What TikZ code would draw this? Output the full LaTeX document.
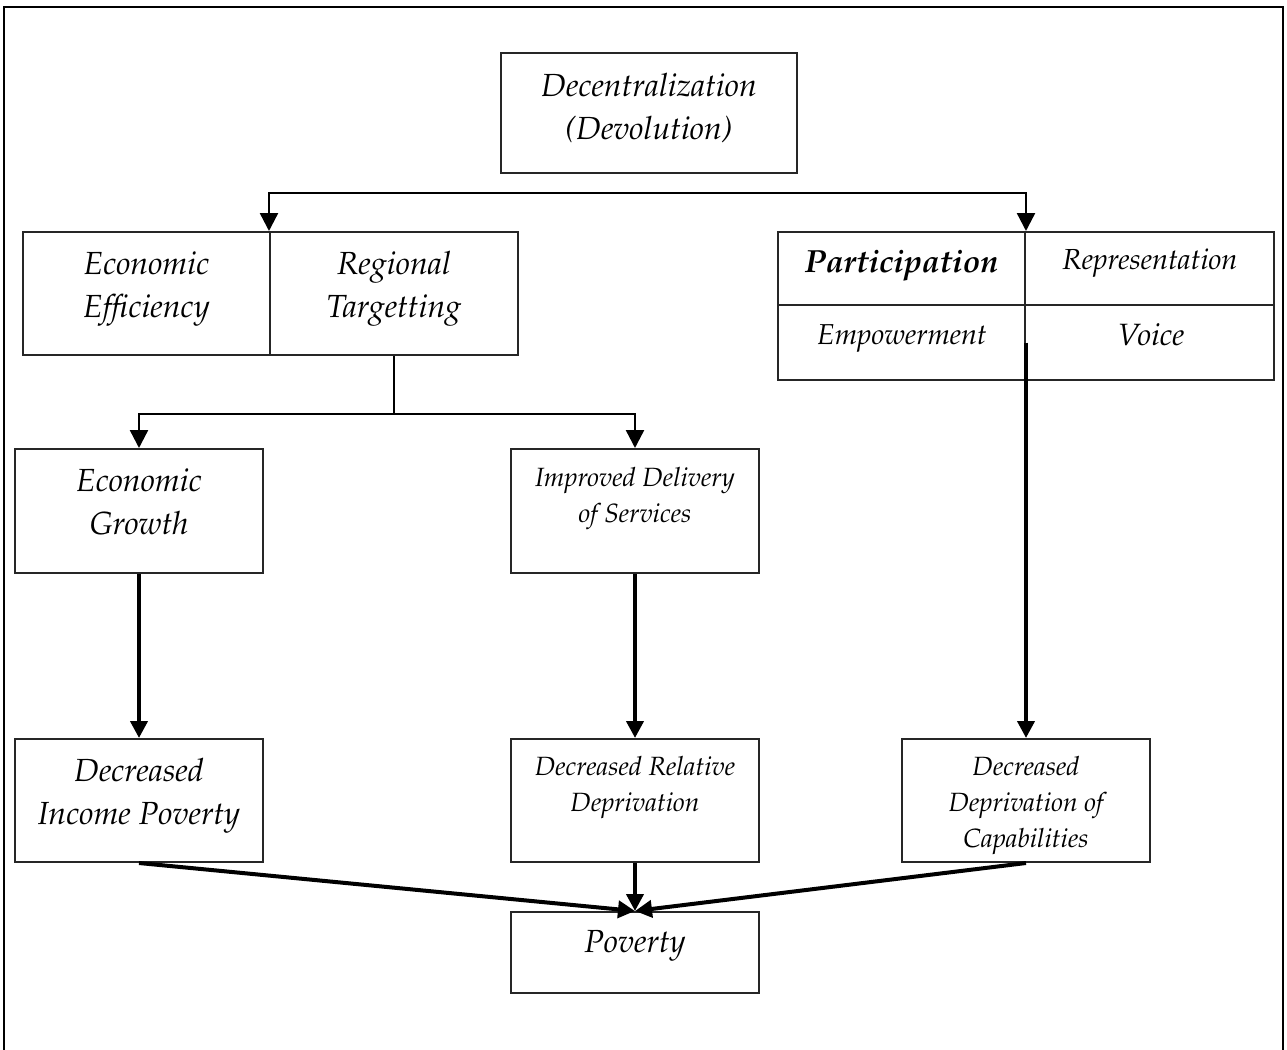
\documentclass[tikz,border=0pt]{standalone}
\usepackage[T1]{fontenc}
\usepackage{mathpazo}
\usetikzlibrary{arrows.meta}

\begin{document}
\begin{tikzpicture}[
    x=0.5pt, y=-0.5pt,
    box/.style={draw=black!85, line width=1pt, inner sep=0pt},
    bigtxt/.style={align=center, font=\fontsize{16}{21.5}\selectfont\itshape},
    smalltxt/.style={align=center, font=\fontsize{13.2}{18}\selectfont\itshape},
    link/.style={draw, line width=1.2pt},
    linkarrow/.style={link, {Triangle[length=9pt, width=9pt]}-{Triangle[length=9pt, width=9pt]}},
    flow/.style={draw, line width=2pt, -{Triangle[length=8.5pt, width=8.5pt]}}
]
    % Page and frame (sizes in pt are half the pixel values)
    \clip (0,0) rectangle (1287,1050);
    \useasboundingbox (0,0) rectangle (1287,1050);
    \draw[line width=1.3pt] (4,7) rectangle (1283,1070);

    % Top box
    \node[box, minimum width=148pt, minimum height=60pt] (dec) at (649,113) {};
    \node[bigtxt] (dec-t) at (649,108) {Decentralization\\(Devolution)};

    % Left group
    \node[box, minimum width=123.5pt, minimum height=61.5pt] (eff) at (146.5,293.5) {};
    \node[box, minimum width=124pt, minimum height=61.5pt] (reg) at (394,293.5) {};
    \node[bigtxt] (eff-t) at (146.5,289) {Economic\\Efficiency};
    \node[bigtxt] (reg-t) at (394,289) {Regional\\Targetting};

    % Right group
    \node[box, minimum width=123.5pt, minimum height=36.5pt] (part) at (901.5,268.5) {};
    \node[box, minimum width=124.5pt, minimum height=36.5pt] (rep) at (1149.5,268.5) {};
    \node[box, minimum width=123.5pt, minimum height=37.5pt] (emp) at (901.5,342.5) {};
    \node[box, minimum width=124.5pt, minimum height=37.5pt] (voice) at (1149.5,342.5) {};
    \node[bigtxt, font=\fontsize{16}{21.5}\selectfont\bfseries\itshape] (part-t) at (901.5,265) {Participation};
    \node[smalltxt, font=\fontsize{14.5}{18}\selectfont\itshape] (rep-t) at (1150,263) {Representation};
    \node[smalltxt, font=\fontsize{14.4}{18}\selectfont\itshape] (emp-t) at (902,338) {Empowerment};
    \node[bigtxt, font=\fontsize{15.4}{21.5}\selectfont\itshape] (voice-t) at (1151,335) {Voice};

    % Middle row
    \node[box, minimum width=124pt, minimum height=62pt] (growth) at (139,511) {};
    \node[box, minimum width=124pt, minimum height=62pt] (service) at (635,511) {};
    \node[bigtxt] (growth-t) at (139,502) {Economic\\Growth};
    \node[smalltxt] (service-t) at (635,499) {Improved Delivery\\of Services};

    % Outcome row
    \node[box, minimum width=124pt, minimum height=61.5pt] (income) at (139,800.5) {};
    \node[box, minimum width=124pt, minimum height=61.5pt] (relative) at (635,800.5) {};
    \node[box, minimum width=124pt, minimum height=61.5pt] (capab) at (1026,800.5) {};
    \node[bigtxt] (income-t) at (139,796) {Decreased\\Income Poverty};
    \node[smalltxt] (relative-t) at (635,788) {Decreased Relative\\Deprivation};
    \node[smalltxt] (capab-t) at (1026,806) {Decreased\\Deprivation of\\Capabilities};

    % Bottom box
    \node[box, minimum width=124pt, minimum height=40.5pt] (poverty) at (635,952.5) {};
    \node[bigtxt] (poverty-t) at (635,946) {Poverty};

    % Branches
    \coordinate (topbar) at (649,193);
    \coordinate (midbar) at (394,414);
    \draw[linkarrow] (reg.north west) |- (topbar) -| (part.north east);
    \draw[link] (reg.south) -- (midbar);
    \draw[linkarrow] (growth.north) |- (midbar) -| (service.north);

    % Flows
    \draw[flow] (growth.south) -- (income.north);
    \draw[flow] (service.south) -- (relative.north);
    \draw[flow] (emp.east) -- (emp.east |- capab.north);
    \draw[flow] (income.south) -- (poverty.north);
    \draw[flow] (relative.south) -- (poverty.north);
    \draw[flow] (capab.south) -- (poverty.north);

\end{tikzpicture}
\end{document}
